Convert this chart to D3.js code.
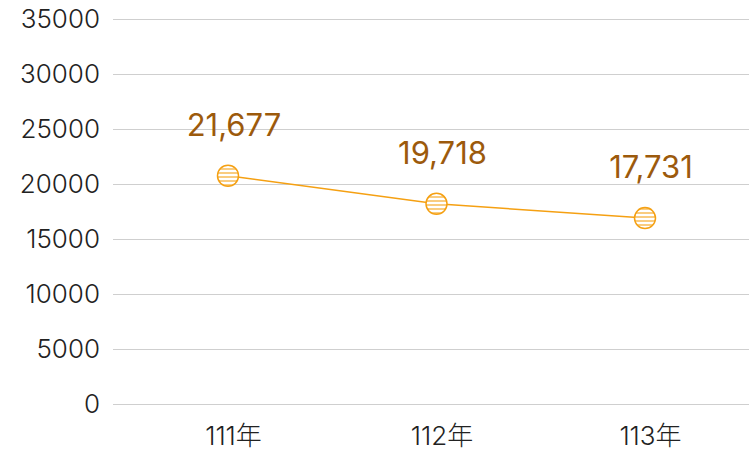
<!DOCTYPE html>
<html>
<head>
<meta charset="utf-8">
<script src="https://cdn.jsdelivr.net/npm/d3@7"></script>
<style>
  body { margin: 0; background: #fff; }
  text { font-family: "Inter", "Noto Sans CJK TC", sans-serif; font-weight: 300; }
</style>
</head>
<body>
<div id="container"></div>
<script>
/* CONSTANTS AND GLOBALS */
const width = 749,
  height = 457,
  margin = { top: 19, bottom: 53, left: 113, right: 0 }

// data
const years = ["111年", "112年", "113年"]
const values = [20750, 18200, 16900]
const labels = ["21,677", "19,718", "17,731"]
const yTicks = [0, 5000, 10000, 15000, 20000, 25000, 30000, 35000]

const orange = "#f5a012"
const brown = "#9c5a0c"

// + SCALES
const xScale = d3.scalePoint()
  .domain(years)
  .range([228, 645])

const yScale = d3.scaleLinear()
  .domain([0, 35000])
  .range([height - margin.bottom, margin.top])

// CREATE SVG ELEMENT
const svg = d3.select("#container")
  .append("svg")
  .attr("width", width)
  .attr("height", height)

// stripes for the markers
const pat = svg.append("defs").append("pattern")
  .attr("id", "stripes")
  .attr("patternUnits", "userSpaceOnUse")
  .attr("width", 6)
  .attr("height", 4)
pat.append("rect").attr("width", 6).attr("height", 4).attr("fill", "#fff")
pat.append("line")
  .attr("x1", 0).attr("x2", 6).attr("y1", 1).attr("y2", 1)
  .attr("stroke", "#f8bb55").attr("stroke-width", 1.5)

// grid + y labels
const yAxis = d3.axisLeft(yScale)
  .tickValues(yTicks)
  .tickSize(-(width - margin.left - margin.right))
  .tickPadding(13)
  .tickFormat(d3.format("d"))

svg.append("g")
  .attr("class", "yAxis")
  .attr("transform", `translate(${margin.left}, 0)`)
  .call(yAxis)
  .call(g => g.select(".domain").remove())
  .call(g => g.selectAll(".tick line").attr("stroke", "#cfcfcf"))
  .call(g => g.selectAll(".tick text")
    .attr("fill", "#222")
    .style("font-size", "26px"))

// x labels
const xAxis = d3.axisBottom(xScale).tickSize(0).tickPadding(23)

svg.append("g")
  .attr("class", "xAxis")
  .attr("transform", `translate(0, ${height - margin.bottom})`)
  .call(xAxis)
  .call(g => g.select(".domain").remove())
  .call(g => g.selectAll(".tick text")
    .attr("fill", "#222")
    .attr("dx", 5)
    .style("font-size", "26px"))

// line
const lineGen = d3.line()
  .x((d, i) => xScale(years[i]))
  .y(d => yScale(d))

svg.append("path")
  .datum(values)
  .attr("fill", "none")
  .attr("stroke", orange)
  .attr("stroke-width", 1.5)
  .attr("d", lineGen)

// markers
svg.selectAll(".dot")
  .data(values)
  .join("circle")
  .attr("class", "dot")
  .attr("cx", (d, i) => xScale(years[i]))
  .attr("cy", d => yScale(d))
  .attr("r", 10.5)
  .attr("fill", "url(#stripes)")
  .attr("stroke", orange)
  .attr("stroke-width", 1.5)

// value labels
svg.selectAll(".lbl")
  .data(values)
  .join("text")
  .attr("class", "lbl")
  .attr("x", (d, i) => xScale(years[i]) + 6)
  .attr("y", d => yScale(d) - 40)
  .attr("text-anchor", "middle")
  .attr("fill", brown)
  .style("font-size", "31px")
  .style("font-weight", 400)
  .text((d, i) => labels[i])
</script>
</body>
</html>
